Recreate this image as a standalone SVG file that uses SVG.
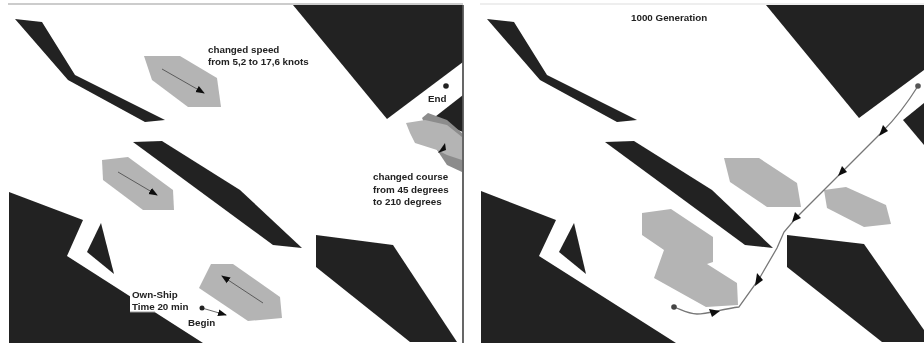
<svg xmlns="http://www.w3.org/2000/svg" width="924" height="345" viewBox="0 0 924 345">
<defs>
<filter id="soft" x="0" y="0" width="924" height="345" filterUnits="userSpaceOnUse"><feGaussianBlur stdDeviation="0.6"/></filter>
<marker id="ah" markerUnits="userSpaceOnUse" markerWidth="12" markerHeight="10" refX="8" refY="4" orient="auto"><path d="M0,0.5 L9,4 L0,7.5 Z" fill="#111"/></marker>
</defs>
<style>
.ob{fill:#222}
.sh{fill:#b4b4b4}
.sh2{fill:#8c8c8c}
.t{font-family:"Liberation Sans",Arial,sans-serif;font-size:9.8px;font-weight:bold;fill:#222}
.c{fill:none;stroke:#444;stroke-width:0.8}
.rt{fill:none;stroke:#777;stroke-width:1.3}
.d{fill:#222}
.m{fill:#111}
</style>
<rect width="924" height="345" fill="#fff"/>
<g filter="url(#soft)">
<g id="frame">
<path d="M8,4H463" stroke="#bbb" stroke-width="1.5" fill="none"/>
<path d="M480,4H924" stroke="#ddd" stroke-width="1" fill="none"/>
</g>
<g id="left-panel">
<g id="l-obstacles">
<polygon class="ob" points="15,19 42,22 75,75 165,120 145,122 68,80"/>
<polygon class="ob" points="293,5 463,5 463,62 387,119"/>
<polygon class="ob" points="431,120 463,95 463,132"/>
<polygon class="ob" points="133,142 162,141 240,190 302,248 273,245"/>
<polygon class="ob" points="9,192 83,220 67,256 203,343 9,343"/>
<polygon class="ob" points="101,223 87,252 114,274"/>
<polygon class="ob" points="316,235 393,245 457,342 410,342 316,267"/>
</g>
<g id="l-ship-end">
<polygon class="sh2" points="422,118 428,113 447,120 462,133 462,172 447,165 437,150"/>
<polygon class="sh" points="406,123 425,120 447,125 462,137 462,160 447,155 437,150 415,143 410,133"/>
<polygon class="m" points="445,143 446,150 438,153"/>
</g>
<polygon id="ship-a" class="sh" points="144,56 180,56 217,78 221,107 188,107 152,80"/>
<polygon id="ship-b" class="sh" points="102,160 128,157 173,190 174,210 143,210 103,180"/>
<polygon id="ship-c" class="sh" points="211,264 233,264 280,297 282,318 248,321 199,288"/>
<g id="l-connectors">
<path class="c" d="M162,69 L204,93" marker-end="url(#ah)"/>
<path class="c" d="M118,172 L157,195" marker-end="url(#ah)"/>
<path class="c" d="M263,303 L222,276" marker-end="url(#ah)"/>
<path class="c" d="M202,308 L226,315" marker-end="url(#ah)"/>
</g>
<circle id="l-begin" class="d" cx="202" cy="308" r="2.5"/>
<circle id="l-end" class="d" cx="446" cy="86" r="2.8"/>
<path id="divider" d="M463,5V343" stroke="#555" stroke-width="1.8" fill="none"/>
<rect id="label-bg" x="130" y="288" width="62" height="24" fill="#fff"/>
<path d="M130,312H155" stroke="#999" stroke-width="1" fill="none"/>
<g id="l-labels">
<text class="t" x="208" y="53">changed speed</text>
<text class="t" x="208" y="65">from 5,2 to 17,6 knots</text>
<text class="t" x="428" y="102">End</text>
<text class="t" x="373" y="180">changed course</text>
<text class="t" x="373" y="193">from 45 degrees</text>
<text class="t" x="373" y="205">to 210 degrees</text>
<text class="t" x="132" y="298">Own-Ship</text>
<text class="t" x="132" y="310">Time 20 min</text>
<text class="t" x="188" y="326">Begin</text>
</g>
</g>
<g id="right-panel">
<g id="r-obstacles">
<polygon class="ob" points="487,19 514,22 547,75 637,120 617,122 540,80"/>
<polygon class="ob" points="766,5 924,5 924,70 859,118"/>
<polygon class="ob" points="903,120 924,103 924,145"/>
<polygon class="ob" points="605,142 634,141 712,190 773,248 745,245"/>
<polygon class="ob" points="481,191 556,220 539,256 676,343 481,343"/>
<polygon class="ob" points="574,223 559,252 586,274"/>
<polygon class="ob" points="787,235 864,244 924,330 924,342 882,342 787,267"/>
</g>
<polygon id="r-ship-a" class="sh" points="724,158 759,158 797,183 801,207 767,207 730,182"/>
<polygon id="r-ship-b" class="sh" points="824,190 846,187 886,205 891,224 864,227 827,208"/>
<polygon id="r-ship-c" class="sh" points="642,213 671,209 713,237 713,262 707,264 737,283 738,305 706,307 654,278 664,250 642,235"/>
<g id="r-connectors">
<path class="rt" d="M674,307 C682,310 688,314 697,314 C708,314 722,309 739,307 L759,279 L777,248 L784,232 L796,218 L842,172 L883,131 C897,117 908,102 918,86"/>
<polygon class="m" points="709,309 720,311 712,317"/>
<polygon class="m" points="755,286 757,273 763,280"/>
<polygon class="m" points="792,222 795,212 801,218"/>
<polygon class="m" points="838,176 842,166 847,172"/>
<polygon class="m" points="879,136 883,125 888,131"/>
</g>
<circle id="r-begin" cx="674" cy="307" r="2.8" fill="#444"/>
<circle id="r-end" cx="918" cy="86" r="2.8" fill="#555"/>
<text class="t" x="631" y="21">1000 Generation</text>
</g>
</g>
</svg>
